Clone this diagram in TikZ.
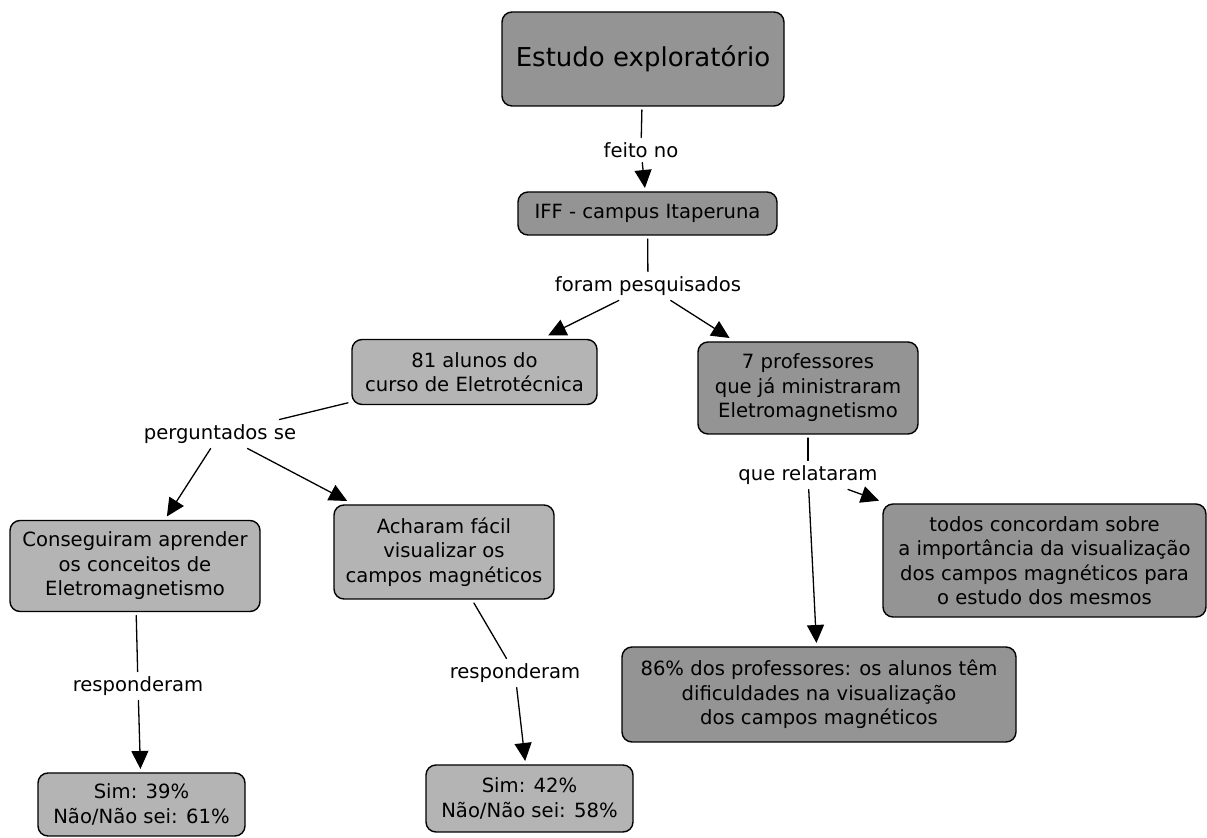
\documentclass[tikz,border=0pt]{standalone}
\usepackage{fontspec}
\setmainfont{DejaVu Sans}
\usetikzlibrary{arrows.meta}
\definecolor{boxdark}{RGB}{148,148,148}
\definecolor{boxlight}{RGB}{180,180,180}

\begin{document}
\begin{tikzpicture}[x=0.5pt, y=-0.5pt, >={Triangle[length=9pt,width=8.5pt]}, line width=0.65pt, line cap=round, line join=round,
  concept/.style={draw=black, line width=0.7pt, rounded corners=5pt, align=center, font=\fontsize{9.8}{12.25}\selectfont, inner sep=2pt, outer sep=2pt},
  darkbox/.style={concept, fill=boxdark},
  lightbox/.style={concept, fill=boxlight},
  linkword/.style={align=center, font=\fontsize{9.8}{12.25}\selectfont, inner sep=1.5pt, outer sep=1pt}]

\useasboundingbox (0,0) rectangle (1207,838);

\node[darkbox, minimum width=141pt, minimum height=47pt, font=\fontsize{13}{15}\selectfont] (estudo) at (643,59) {Estudo exploratório};
\node[darkbox, minimum width=129.5pt, minimum height=21.5pt] (iff) at (647.5,213.5) {IFF - campus Itaperuna};
\node[lightbox, minimum width=122.5pt, minimum height=32.5pt] (alunos) at (474.5,372) {81 alunos do\\curso de Eletrotécnica};
\node[darkbox, minimum width=110pt, minimum height=46pt] (profs) at (808,388) {7 professores\\que já ministraram\\Eletromagnetismo};
\node[lightbox, minimum width=125pt, minimum height=45.5pt] (conceitos) at (135,566) {Conseguiram aprender\\os conceitos de\\Eletromagnetismo};
\node[lightbox, minimum width=110pt, minimum height=47pt] (facil) at (444,552) {Acharam fácil\\visualizar os\\campos magnéticos};
\node[darkbox, minimum width=161.5pt, minimum height=56.5pt] (todos) at (1044.5,560.5) {todos concordam sobre\\a importância da visualização\\dos campos magnéticos para\\o estudo dos mesmos};
\node[darkbox, minimum width=197pt, minimum height=47.5pt] (dificuldades) at (819,694.5) {86\% dos professores: os alunos têm\\dificuldades na visualização\\dos campos magnéticos};
\node[lightbox, minimum width=103.5pt, minimum height=31.5pt] (simA) at (141.5,804.5) {Sim: 39\%\\Não/Não sei: 61\%};
\node[lightbox, minimum width=103.5pt, minimum height=33.5pt] (simB) at (529.5,798.5) {Sim: 42\%\\Não/Não sei: 58\%};

\node[linkword] (feito) at (641,150) {feito no};
\node[linkword] (foram) at (648,286) {foram pesquisados};
\node[linkword] (perguntados) at (220,434) {perguntados se};
\node[linkword] (relataram) at (808,475) {que relataram};
\node[linkword] (respA) at (138,686) {responderam};
\node[linkword] (respB) at (515,673) {responderam};

\draw (estudo) -- (feito);
\draw[->] (feito) -- (iff);
\draw (iff) -- (foram);
\draw[->] (foram) -- (alunos);
\draw[->] (foram) -- (profs);
\draw (alunos) -- (perguntados);
\draw[->] (perguntados) -- (conceitos);
\draw[->] (perguntados) -- (facil);
\draw (profs) -- (relataram);
\draw[->] (relataram) -- (todos);
\draw[->] (relataram) -- (dificuldades);
\draw (conceitos) -- (respA);
\draw[->] (respA) -- (simA);
\draw (facil) -- (respB);
\draw[->] (respB) -- (simB);

\end{tikzpicture}
\end{document}
